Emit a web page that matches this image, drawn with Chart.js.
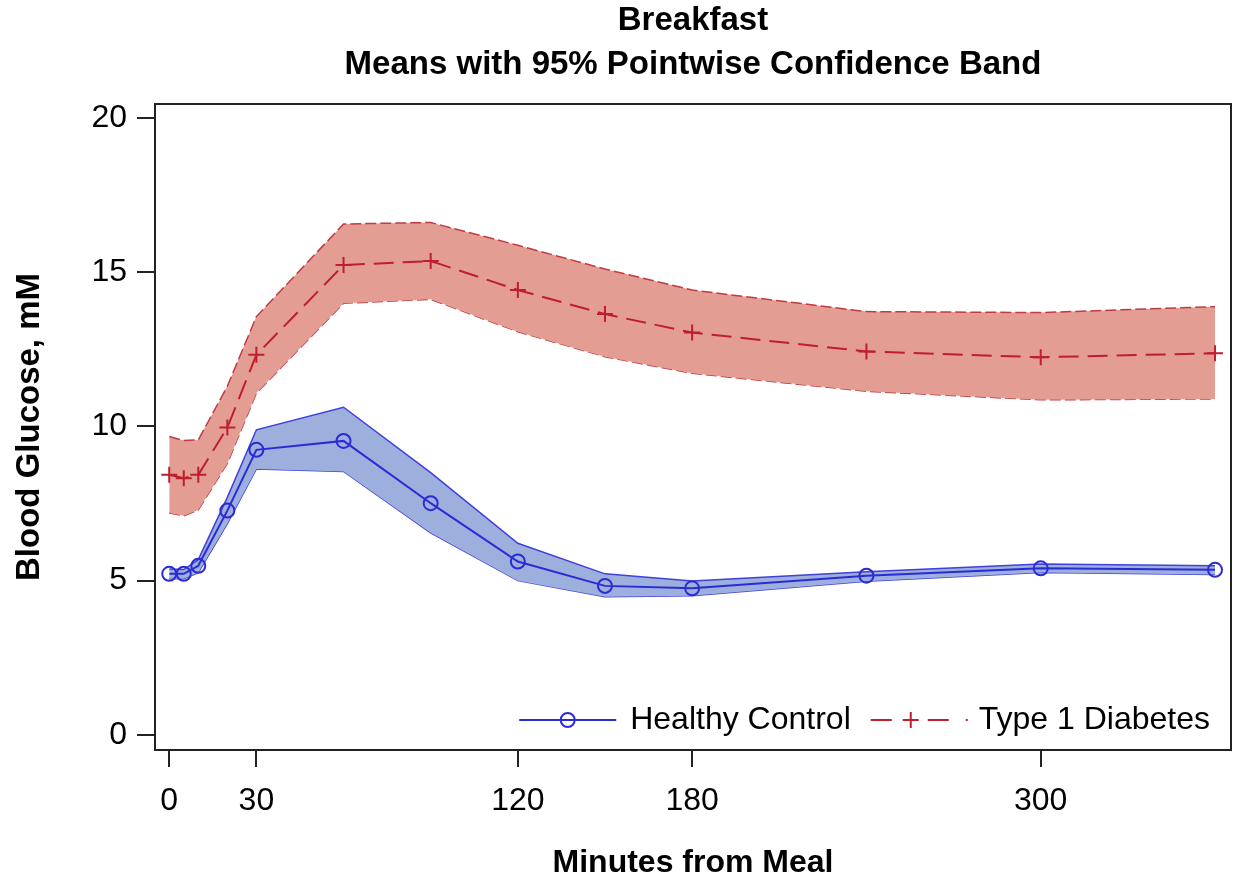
<!DOCTYPE html>
<html><head><meta charset="utf-8">
<script src="https://cdn.jsdelivr.net/npm/chart.js@4.4.1/dist/chart.umd.min.js"></script>
<style>html,body{margin:0;padding:0;background:#fff;}canvas{display:block;}</style>
</head><body>
<canvas id="c" width="1236" height="884"></canvas>
<script>
const minutes = [0, 5, 10, 20, 30, 60, 90, 120, 150, 180, 240, 300, 360];
const healthyMean  = [5.22, 5.22, 5.48, 7.27, 9.24, 9.53, 7.51, 5.62, 4.83, 4.75, 5.16, 5.40, 5.35];
const healthyUpper = [5.38, 5.36, 5.68, 7.70, 9.89, 10.62, 8.50, 6.21, 5.22, 4.99, 5.29, 5.54, 5.48];
const healthyLower = [5.06, 5.06, 5.26, 6.85, 8.62, 8.54, 6.55, 5.00, 4.48, 4.51, 4.98, 5.26, 5.20];
const t1dMean  = [8.43, 8.32, 8.43, 9.96, 12.32, 15.23, 15.36, 14.42, 13.64, 13.04, 12.43, 12.24, 12.37];
const t1dUpper = [9.67, 9.54, 9.56, 11.30, 13.56, 16.56, 16.61, 15.87, 15.10, 14.42, 13.72, 13.69, 13.88];
const t1dLower = [7.19, 7.10, 7.29, 8.80, 11.08, 13.99, 14.12, 13.07, 12.26, 11.72, 11.14, 10.86, 10.89];
const xTicks = [0, 30, 120, 180, 300];
const yTicks = [0, 5, 10, 15, 20];
const seriesNames = ['Healthy Control', 'Type 1 Diabetes'];
const titleLines = ['Breakfast', 'Means with 95% Pointwise Confidence Band'];

const FONT = "'Liberation Sans', Arial, sans-serif";
const BLUE = '#2b2bd6', BLUE_EDGE = '#4040dc', BLUE_FILL = '#9dafdc';
const RED = '#be1e2d', RED_EDGE = '#c23a44', RED_FILL = '#e39d93';

const pts = arr => arr.map((v, i) => ({x: minutes[i], y: v}));

const framePlugin = {
  id: 'frameLegend',
  afterDraw(chart) {
    const {ctx, chartArea: a} = chart;
    ctx.save();
    // title centred over the plot area
    ctx.fillStyle = '#000';
    ctx.textAlign = 'center';
    ctx.textBaseline = 'middle';
    ctx.font = 'bold 33px ' + FONT;
    const cxT = (a.left + a.right) / 2;
    ctx.fillText(titleLines[0], cxT, 21);
    ctx.fillText(titleLines[1], cxT, 65);
    // frame
    ctx.strokeStyle = '#222'; ctx.lineWidth = 2; ctx.setLineDash([]);
    ctx.strokeRect(a.left, a.top, a.right - a.left, a.bottom - a.top);
    // legend inside plot, bottom-right
    ctx.font = '32px ' + FONT;
    ctx.textAlign = 'left';
    const y = a.bottom - 30;
    const w2 = ctx.measureText(seriesNames[1]).width;
    const w1 = ctx.measureText(seriesNames[0]).width;
    const t2x = a.right - 21 - w2;
    const s2r = t2x - 11, s2l = s2r - 97;
    const t1x = s2l - 20 - w1;
    const s1r = t1x - 14, s1l = s1r - 97;
    ctx.fillText(seriesNames[0], t1x, y);
    ctx.fillText(seriesNames[1], t2x, y);
    ctx.strokeStyle = BLUE; ctx.lineWidth = 2;
    ctx.beginPath(); ctx.moveTo(s1l, y); ctx.lineTo(s1r, y); ctx.stroke();
    ctx.beginPath(); ctx.arc((s1l + s1r) / 2, y, 7, 0, Math.PI * 2); ctx.stroke();
    ctx.strokeStyle = RED;
    ctx.beginPath();
    ctx.moveTo(s2l, y); ctx.lineTo(s2l + 21, y);
    ctx.moveTo(s2l + 57, y); ctx.lineTo(s2l + 78, y);
    ctx.moveTo(s2r - 2, y); ctx.lineTo(s2r, y);
    ctx.stroke();
    const cx = s2l + 40;
    ctx.beginPath(); ctx.moveTo(cx - 8, y); ctx.lineTo(cx + 8, y); ctx.moveTo(cx, y - 8); ctx.lineTo(cx, y + 8); ctx.stroke();
    ctx.restore();
  }
};

new Chart(document.getElementById('c'), {
  type: 'line',
  data: {
    datasets: [
      {label: seriesNames[0], data: pts(healthyMean), fill: false, borderColor: BLUE, borderWidth: 2,
       pointStyle: 'circle', pointRadius: 7, pointBorderWidth: 2, pointBorderColor: BLUE,
       pointBackgroundColor: 'rgba(0,0,0,0)', tension: 0},
      {label: seriesNames[1], data: pts(t1dMean), fill: false, borderColor: RED, borderWidth: 2,
       borderDash: [20, 9], pointStyle: 'cross', pointRadius: 8, pointBorderWidth: 2,
       pointBorderColor: RED, tension: 0},
      {label: 'T1D upper', data: pts(t1dUpper), fill: '+1', backgroundColor: RED_FILL,
       borderColor: RED_EDGE, borderWidth: 1.5, borderDash: [11, 4], pointRadius: 0, tension: 0},
      {label: 'T1D lower', data: pts(t1dLower), fill: false,
       borderColor: RED_EDGE, borderWidth: 1.5, borderDash: [11, 4], pointRadius: 0, tension: 0},
      {label: 'HC upper', data: pts(healthyUpper), fill: '+1', backgroundColor: BLUE_FILL,
       borderColor: BLUE_EDGE, borderWidth: 1.5, pointRadius: 0, tension: 0},
      {label: 'HC lower', data: pts(healthyLower), fill: false,
       borderColor: BLUE_EDGE, borderWidth: 1.5, pointRadius: 0, tension: 0}
    ]
  },
  options: {
    responsive: false,
    animation: false,
    devicePixelRatio: 1,
    layout: {autoPadding: false, padding: {left: 0, right: 5, top: 104, bottom: 0}},
    plugins: {
      legend: {display: false},
      tooltip: {enabled: false},
      title: {display: false}
    },
    scales: {
      x: {
        type: 'linear', min: -4.9, max: 365.5,
        afterBuildTicks: s => { s.ticks = xTicks.map(v => ({value: v})); },
        afterFit: s => { s.height = 134; },
        ticks: {color: '#000', font: {family: FONT, size: 32}, padding: 15, maxRotation: 0, autoSkip: false},
        grid: {drawOnChartArea: false, drawTicks: true, tickLength: 17, color: '#222', lineWidth: 2},
        border: {display: true, color: '#222', width: 2},
        title: {display: true, text: 'Minutes from Meal', color: '#000',
          font: {family: FONT, size: 32, weight: 'bold', lineHeight: 1.2}, padding: {top: 0, bottom: 2}}
      },
      y: {
        type: 'linear', min: -0.49, max: 20.45,
        afterBuildTicks: s => { s.ticks = yTicks.map(v => ({value: v})); },
        afterFit: s => { s.width = 155; },
        ticks: {color: '#000', font: {family: FONT, size: 32}, padding: 10},
        grid: {drawOnChartArea: false, drawTicks: true, tickLength: 18, color: '#222', lineWidth: 2},
        border: {display: true, color: '#222', width: 2},
        title: {display: true, text: 'Blood Glucose, mM', color: '#000',
          font: {family: FONT, size: 33, weight: 'bold', lineHeight: 1.2}, padding: {top: 10, bottom: 0}}
      }
    }
  },
  plugins: [framePlugin]
});
</script>
</body></html>
